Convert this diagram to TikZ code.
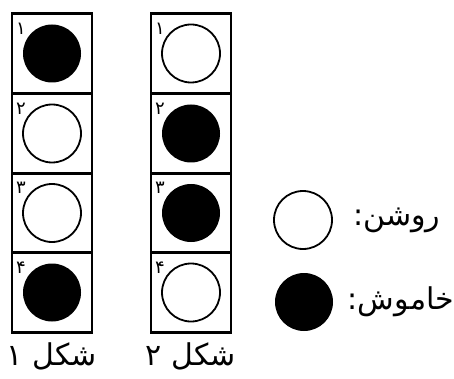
\documentclass[tikz,border=0pt]{standalone}
\usepackage{fontspec}
\newfontfamily\farsi[Script=Arabic]{DejaVu Sans}
\TeXXeTstate=1
\usepackage{tikz}
\usetikzlibrary{positioning}

\begin{document}
\begin{tikzpicture}[
  x=0.5pt, y=-0.5pt,
  cell/.style={draw, line width=1.1pt, minimum width=40pt, minimum height=40pt, inner sep=0pt},
  lampon/.style={circle, draw, line width=0.9pt, minimum size=29pt, inner sep=0pt},
  lampoff/.style={circle, fill=black, minimum size=29pt, inner sep=0pt},
  num/.style={font=\farsi\fontsize{9}{9}\selectfont, inner sep=0pt},
  lbl/.style={font=\farsi\fontsize{15}{17}\selectfont, inner sep=0pt}
]
\useasboundingbox (0,0) rectangle (454,379);
% shekl 1
\node[cell] (a1) at (52,53.5) {};
\node[cell] (a2) at (52,133.5) {};
\node[cell] (a3) at (52,213) {};
\node[cell] (a4) at (52,292.5) {};
\node[lampoff] at (a1) {};
\node[lampon] at (a2) {};
\node[lampon] at (a3) {};
\node[lampoff] at (a4) {};
\node[num] at ([xshift=5pt,yshift=-8pt]a1.north west) {۱};
\node[num] at ([xshift=5pt,yshift=-8pt]a2.north west) {۲};
\node[num] at ([xshift=5pt,yshift=-8pt]a3.north west) {۳};
\node[num] at ([xshift=5pt,yshift=-8pt]a4.north west) {۴};
% shekl 2
\node[cell] (b1) at (191,53.5) {};
\node[cell] (b2) at (191,133.5) {};
\node[cell] (b3) at (191,213) {};
\node[cell] (b4) at (191,292.5) {};
\node[lampon] at (b1) {};
\node[lampoff] at (b2) {};
\node[lampoff] at (b3) {};
\node[lampon] at (b4) {};
\node[num] at ([xshift=5pt,yshift=-8pt]b1.north west) {۱};
\node[num] at ([xshift=5pt,yshift=-8pt]b2.north west) {۲};
\node[num] at ([xshift=5pt,yshift=-8pt]b3.north west) {۳};
\node[num] at ([xshift=5pt,yshift=-8pt]b4.north west) {۴};
% captions
\node[lbl] (capa) at (52,356) {\beginR شکل ۱\endR};
\node[lbl] (capb) at (191,356) {\beginR شکل ۲\endR};
% legend
\node[lampon] (on) at (303,220) {};
\node[lampoff] (off) at (304,302) {};
\node[lbl, right=10pt of on] (ontext) {\beginR روشن:\endR};
\node[lbl, right=7pt of off] (offtext) {\beginR خاموش:\endR};
\end{tikzpicture}
\end{document}
